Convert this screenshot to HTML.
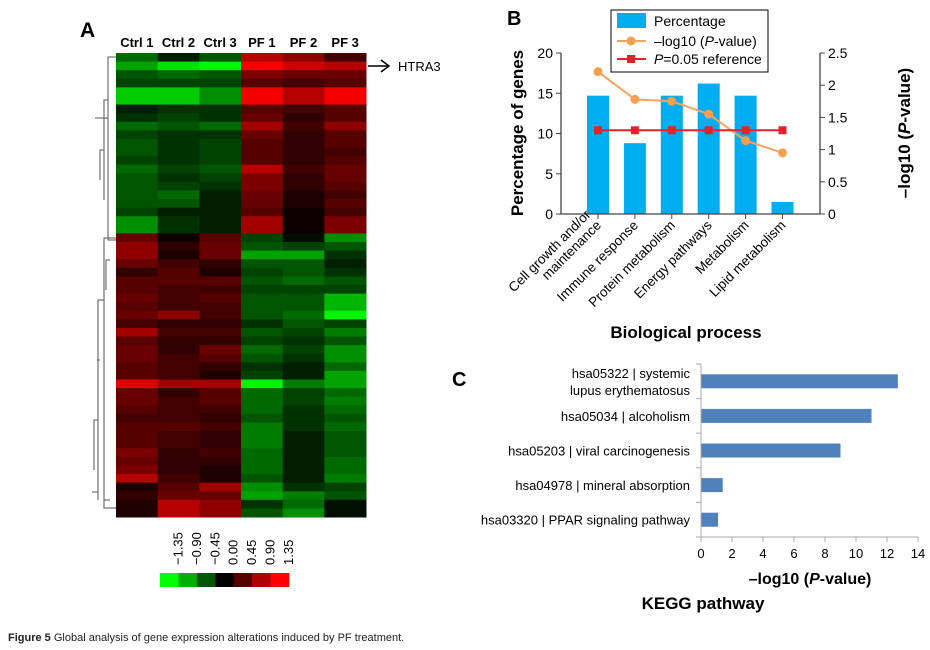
<!DOCTYPE html>
<html><head><meta charset="utf-8">
<style>
body{margin:0;background:#fff;}
svg{display:block;font-family:"Liberation Sans",Arial,sans-serif;}
</style></head>
<body>
<svg id="fig" width="930" height="650" viewBox="0 0 930 650">
  <text x="80" y="37" font-size="21" font-weight="bold">A</text>
  <text x="507" y="25" font-size="20" font-weight="bold">B</text>
  <text x="452" y="386" font-size="20" font-weight="bold">C</text>
  <g id="heat"></g>
  <g id="dendro" stroke="#555" stroke-width="1" fill="none">
    <path d="M116 57 H108 V240 H116 M108 118 H95 M108 100 H104 V200 M104 150 H100 V180"/>
    <path d="M116 238 H104 V508 H116 M104 300 H98 V500 M98 492 H92 M98 420 H94 V470 M110 260 H106 V290 M110 500 H104 M100 360 H97"/>
  </g>
  <g>
    <line x1="368" y1="66" x2="388" y2="66" stroke="#000" stroke-width="1.5"/>
    <path d="M381 60 L389 66 L381 72" stroke="#000" stroke-width="1.5" fill="none"/>
    <text x="398" y="71" font-size="13">HTRA3</text>
  </g>
  <g id="colorkey"></g>
  <g id="chartB"></g>
  <g id="chartC"></g>
  <text x="8" y="641" font-size="11" fill="#222"><tspan font-weight="bold">Figure 5</tspan> Global analysis of gene expression alterations induced by PF treatment.</text>
</svg>
<script>
const NS='http://www.w3.org/2000/svg';
function mk(tag,attrs,parent,text){const e=document.createElementNS(NS,tag);for(const k in attrs)e.setAttribute(k,attrs[k]);if(text!==undefined)e.textContent=text;parent.appendChild(e);return e;}

// ---------- Heatmap data ----------
const heatColumns=['Ctrl 1','Ctrl 2','Ctrl 3','PF 1','PF 2','PF 3'];
const heatRows=[
[-0.6,-0.2,-0.5,1.0,0.8,0.4],[-0.9,-1.2,-1.3,1.3,1.1,1.0],[-0.5,-0.6,-0.5,0.7,0.6,0.6],[-0.4,-0.4,-0.4,0.5,0.4,0.5],
[-1.1,-1.1,-0.8,1.3,1.0,1.3],[-1.1,-1.1,-0.8,1.3,1.0,1.3],[-0.2,-0.3,-0.3,0.5,0.4,0.5],[-0.3,-0.4,-0.3,0.6,0.3,0.5],
[-0.6,-0.5,-0.6,0.9,0.4,0.8],[-0.4,-0.3,-0.3,0.6,0.3,0.5],[-0.5,-0.3,-0.4,0.5,0.3,0.5],[-0.5,-0.3,-0.4,0.5,0.3,0.4],
[-0.4,-0.3,-0.4,0.5,0.3,0.5],[-0.6,-0.4,-0.5,1.0,0.4,0.6],[-0.5,-0.3,-0.4,0.7,0.3,0.6],[-0.5,-0.4,-0.3,0.7,0.3,0.5],
[-0.5,-0.6,-0.2,0.6,0.2,0.4],[-0.5,-0.5,-0.2,0.6,0.2,0.5],[-0.4,-0.2,-0.2,0.5,0.1,0.4],[-0.8,-0.3,-0.2,0.9,0.1,0.7],
[-0.8,-0.3,-0.2,0.9,0.1,0.7],
[0.6,0.1,0.5,-0.4,-0.1,-0.8],[0.8,0.3,0.6,-0.5,-0.4,-0.5],[0.8,0.2,0.6,-0.9,-0.9,-0.3],[0.6,0.4,0.3,-0.5,-0.5,-0.2],
[0.3,0.5,0.2,-0.4,-0.5,-0.3],[0.5,0.5,0.5,-0.5,-0.6,-0.5],[0.5,0.4,0.4,-0.4,-0.4,-0.4],[0.6,0.4,0.5,-0.5,-0.5,-1.0],
[0.5,0.4,0.4,-0.5,-0.5,-1.0],[0.6,0.8,0.4,-0.5,-0.6,-1.3],[0.4,0.3,0.3,-0.3,-0.5,-0.4],[0.9,0.4,0.4,-0.5,-0.4,-0.7],
[0.5,0.3,0.3,-0.4,-0.3,-0.5],[0.6,0.3,0.6,-0.6,-0.4,-0.8],[0.6,0.4,0.5,-0.5,-0.3,-0.8],[0.5,0.4,0.3,-0.3,-0.2,-0.6],
[0.5,0.4,0.2,-0.4,-0.2,-0.9],[1.2,0.9,0.9,-1.3,-0.7,-0.9],[0.6,0.3,0.5,-0.6,-0.4,-0.6],[0.6,0.4,0.5,-0.6,-0.4,-0.7],
[0.5,0.4,0.4,-0.6,-0.3,-0.6],[0.4,0.4,0.3,-0.5,-0.3,-0.5],[0.5,0.5,0.4,-0.7,-0.3,-0.6],[0.5,0.4,0.3,-0.7,-0.2,-0.5],
[0.5,0.4,0.3,-0.7,-0.2,-0.5],[0.7,0.3,0.4,-0.6,-0.2,-0.5],[0.6,0.3,0.3,-0.6,-0.2,-0.6],[0.7,0.3,0.2,-0.6,-0.2,-0.6],
[1.0,0.4,0.2,-0.5,-0.2,-0.7],[0.2,0.5,0.9,-0.8,-0.3,-0.4],[0.3,0.6,0.6,-0.9,-0.7,-0.5],[0.2,1.0,0.8,-0.3,-0.6,-0.1],
[0.2,1.0,0.8,-0.5,-0.8,-0.1]
];
const keyTicks=['\u22121.35','\u22120.90','\u22120.45','0.00','0.45','0.90','1.35'];
const keyColors=['#00ff00','#00b000','#005500','#000000','#550000','#b00000','#ff0000'];

function heatColor(v){const t=Math.min(1,Math.abs(v)/1.35);const c=Math.round(255*Math.pow(t,1.1));return v<0?`rgb(0,${c},0)`:`rgb(${c},0,0)`;}
(function(){
  const g=document.getElementById('heat');
  const x0=116,x1=366,y0=53,y1=517;
  const cw=(x1-x0)/heatColumns.length, rh=(y1-y0)/heatRows.length;
  heatColumns.forEach((c,i)=>{
    const t=mk('text',{x:x0+cw*(i+0.5),y:47,'font-size':13,'font-weight':'bold','text-anchor':'middle'},g,c);
    
    
  });
  heatRows.forEach((row,r)=>{row.forEach((v,c)=>{
    const rc=mk('rect',{x:x0+c*cw,y:y0+r*rh,width:cw+0.5,height:rh+0.5,fill:heatColor(v)},g);
    
    
  });});
  const k=document.getElementById('colorkey');
  const kx=160,kw=129/keyColors.length;
  keyColors.forEach((col,i)=>{
    const r=mk('rect',{x:kx+i*kw,y:573,width:kw+0.3,height:14,fill:col},k);
    
    
  });
  keyTicks.forEach((t,i)=>{
    const x=kx+(i+1)*kw+4;
    const tx=mk('text',{x:x,y:565,'font-size':13,transform:`rotate(-90 ${x} 565)`},k,t);
    
    
  });
})();

// ---------- Chart B ----------
const bCategories=['Cell growth and/or\nmaintenance','Immune response','Protein metabolism','Energy pathways','Metabolism','Lipid metabolism'];
const bPercent=[14.7,8.8,14.7,16.2,14.7,1.5];
const bLogP=[2.21,1.78,1.75,1.55,1.14,0.95];
const bRef=[1.3,1.3,1.3,1.3,1.3,1.3];
const bLeftTicks=[0,5,10,15,20];
const bRightTicks=['0','0.5','1','1.5','2','2.5'];
(function(){
  const g=document.getElementById('chartB');
  const axL=561,axR=820,yb=214,yt=53;
  const yL=v=>yb-(v/20)*(yb-yt);
  const yR=v=>yb-(v/2.5)*(yb-yt);
  const xC=i=>598+i*36.9;
  bCategories.forEach((c,i)=>{
    const r=mk('rect',{x:xC(i)-11,y:yL(bPercent[i]),width:22,height:yb-yL(bPercent[i]),fill:'#00aeef'},g);
    
    
  });
  mk('line',{x1:axL,y1:yt,x2:axL,y2:yb,stroke:'#444','stroke-width':1.3},g);
  mk('line',{x1:axR,y1:yt,x2:axR,y2:yb,stroke:'#444','stroke-width':1.3},g);
  mk('line',{x1:axL,y1:yb,x2:axR,y2:yb,stroke:'#444','stroke-width':1.3},g);
  bLeftTicks.forEach(v=>{
    mk('line',{x1:axL-5,y1:yL(v),x2:axL,y2:yL(v),stroke:'#444'},g);
    const t=mk('text',{x:axL-8,y:yL(v)+5,'font-size':14,'text-anchor':'end'},g,String(v));
    
    
  });
  bRightTicks.forEach(s=>{
    const v=parseFloat(s);
    mk('line',{x1:axR,y1:yR(v),x2:axR+5,y2:yR(v),stroke:'#444'},g);
    const t=mk('text',{x:axR+8,y:yR(v)+5,'font-size':14},g,s);
    
    
  });
  bCategories.forEach((c,i)=>{
    mk('line',{x1:xC(i),y1:yb,x2:xC(i),y2:yb+5,stroke:'#444'},g);
    const lines=c.split('\n');
    const t=mk('text',{'font-size':13.5,'text-anchor':'end',transform:`translate(${xC(i)+4},${yb+12}) rotate(-45)`},g);
    
    
    lines.forEach((l,j)=>{mk('tspan',{x:0,y:(j-(lines.length-1))*15},t,l);});
  });
  const pl=bLogP.map((v,i)=>`${xC(i)},${yR(v)}`).join(' ');
  const l1=mk('polyline',{points:pl,fill:'none',stroke:'#f4a460','stroke-width':2},g);
  
  
  bLogP.forEach((v,i)=>{const c=mk('circle',{cx:xC(i),cy:yR(v),r:4.5,fill:'#f4a050'},g);
    
    });
  const rl=bRef.map((v,i)=>`${xC(i)},${yR(v)}`).join(' ');
  const l2=mk('polyline',{points:rl,fill:'none',stroke:'#e8202a','stroke-width':2},g);
  
  
  bRef.forEach((v,i)=>{const s=mk('rect',{x:xC(i)-4,y:yR(v)-4,width:8,height:8,fill:'#e8202a'},g);
    
    });
  const lg=mk('g',{},g);
  
  
  mk('rect',{x:611,y:10,width:157,height:62,fill:'#fff',stroke:'#000','stroke-width':1},lg);
  mk('rect',{x:617,y:13,width:29,height:15,fill:'#00aeef'},lg);
  mk('text',{x:654,y:26,'font-size':14},lg,'Percentage');
  mk('line',{x1:617,y1:41,x2:646,y2:41,stroke:'#f4a460','stroke-width':2},lg);
  mk('circle',{cx:631,cy:41,r:4.5,fill:'#f4a050'},lg);
  const t2=mk('text',{x:654,y:46,'font-size':14},lg);t2.innerHTML='\u2013log10 (<tspan font-style="italic">P</tspan>-value)';
  mk('line',{x1:617,y1:59,x2:646,y2:59,stroke:'#e8202a','stroke-width':2},lg);
  mk('rect',{x:627,y:55,width:8,height:8,fill:'#e8202a'},lg);
  const t3=mk('text',{x:654,y:64,'font-size':14},lg);t3.innerHTML='<tspan font-style="italic">P</tspan>=0.05 reference';
  const yt1=mk('text',{x:523,y:133,'font-size':17,'font-weight':'bold','text-anchor':'middle',transform:'rotate(-90 523 133)'},g,'Percentage of genes');
  
  
  const yt2=mk('text',{x:910,y:133,'font-size':17,'font-weight':'bold','text-anchor':'middle',transform:'rotate(-90 910 133)'},g);
  yt2.innerHTML='\u2013log10 (<tspan font-style="italic">P</tspan>-value)';
  
  
  const xt=mk('text',{x:686,y:338,'font-size':17,'font-weight':'bold','text-anchor':'middle'},g,'Biological process');
  
  
})();

// ---------- Chart C ----------
const cCategories=['hsa05322 | systemic\nlupus erythematosus','hsa05034 | alcoholism','hsa05203 | viral carcinogenesis','hsa04978 | mineral absorption','hsa03320 | PPAR signaling pathway'];
const cValues=[12.7,11.0,9.0,1.4,1.1];
const cTicks=[0,2,4,6,8,10,12,14];
(function(){
  const g=document.getElementById('chartC');
  const x0=701,x14=918,yt=364,yb=537;
  const xS=v=>x0+(v/14)*(x14-x0);
  const band=(yb-yt)/cCategories.length;
  cCategories.forEach((c,i)=>{
    const yc=yt+band*(i+0.5);
    const r=mk('rect',{x:x0,y:yc-7,width:xS(cValues[i])-x0,height:14,fill:'#4f81bd'},g);
    
    
    const lines=c.split('\n');
    lines.forEach((l,j)=>{
      const t=mk('text',{x:690,y:yc+5+(j-(lines.length-1)/2)*17,'font-size':13,'text-anchor':'end'},g,l);
      
      
    });
  });
  mk('line',{x1:x0,y1:yt,x2:x0,y2:yb,stroke:'#aaa','stroke-width':1},g);
  mk('line',{x1:x0,y1:yb,x2:x14,y2:yb,stroke:'#aaa','stroke-width':1},g);
  for(let i=0;i<=cCategories.length;i++){mk('line',{x1:x0-5,y1:yt+band*i,x2:x0,y2:yt+band*i,stroke:'#aaa'},g);}
  cTicks.forEach(v=>{
    mk('line',{x1:xS(v),y1:yb,x2:xS(v),y2:yb+5,stroke:'#aaa'},g);
    const t=mk('text',{x:xS(v),y:558,'font-size':13,'text-anchor':'middle'},g,String(v));
    
    
  });
  const xt=mk('text',{x:810,y:584,'font-size':16,'font-weight':'bold','text-anchor':'middle'},g);
  xt.innerHTML='\u2013log10 (<tspan font-style="italic">P</tspan>-value)';
  
  
  const kt=mk('text',{x:703,y:609,'font-size':17,'font-weight':'bold','text-anchor':'middle'},g,'KEGG pathway');
  
  
})();
</script>
</body></html>
